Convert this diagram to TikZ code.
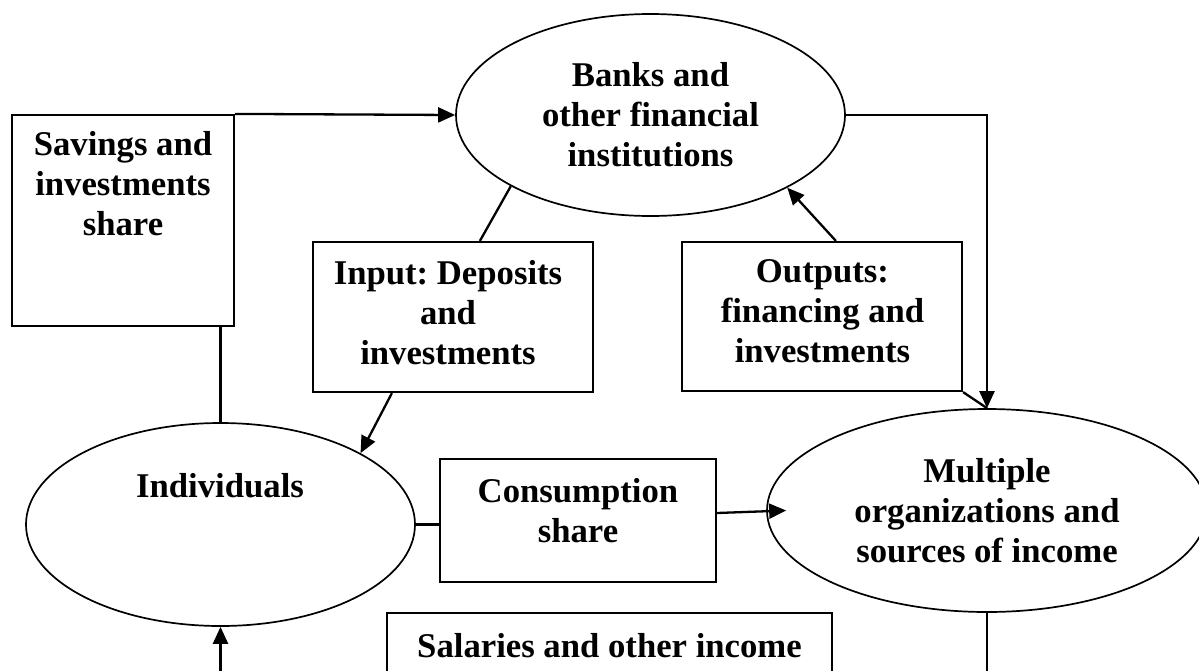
\documentclass[tikz,border=0pt]{standalone}
\usepackage{fontspec}
\setmainfont{Liberation Serif}
\usetikzlibrary{shapes.geometric,arrows.meta,calc}
\frenchspacing

\begin{document}
\begin{tikzpicture}[x=1pt,y=-1pt,
  every node/.style={font=\fontsize{34.7}{40}\selectfont\bfseries},
  bubble/.style={ellipse,draw,line width=1.7pt,inner sep=0pt,align=center},
  frame/.style={rectangle,draw,line width=2.2pt,inner sep=0pt},
  caption/.style={align=center,inner sep=0pt},
  link/.style={line width=2.3pt},
  flow/.style={link,-{Triangle[length=17pt,width=15pt]}}]
\useasboundingbox (0,0) rectangle (1199,670);
\clip (0,0) rectangle (1199,670);

% ellipses
\node[bubble,minimum width=389pt,minimum height=202pt] (banks) at (650.5,115)
  {Banks and\\other financial\\institutions};
\node[bubble,minimum width=440pt,minimum height=203pt] (mult) at (987,510.5)
  {Multiple\\organizations and\\sources of income};
\node[bubble,minimum width=389pt,minimum height=203pt] (ind) at (220.5,524.5) {};
\node[caption,anchor=base] (indT) at (220,497) {Individuals};

% boxes and their texts
\node[frame,minimum width=222pt,minimum height=211pt] (sav) at (123,220.5) {};
\node[caption] (savT) at (123,184) {Savings and\\investments\\share};
\node[frame,minimum width=280pt,minimum height=150pt] (inp) at (453,317) {};
\node[caption] (inpT) at (448,312.5) {Input: Deposits\\and\\investments};
\node[frame,minimum width=280pt,minimum height=149pt] (outp) at (822,316.5) {};
\node[caption] (outT) at (822.5,311.5) {Outputs:\\financing and\\investments};
\node[frame,minimum width=276pt,minimum height=123pt] (cons) at (578,520.5) {};
\node[caption] (consT) at (578,511) {Consumption\\share};
\node[frame,minimum width=445pt,minimum height=140pt] (sal) at (609.5,683) {};
\node[caption,anchor=base] (salT) at (609.5,657) {Salaries and other income};

% lower free ends of the income loop
\coordinate (bot) at (0,700);

% connectors
\draw[flow] (sav.north east) -- (banks.west);
\draw[link] (sav.south -| ind.north) -- (ind.north);
\draw[link] (banks.207.5) -- ($(inp.north west)+(168,0)$);
\draw[flow] ($(inp.south west)+(80,0)$) -- (ind.27.8);
\draw[flow] ($(outp.north west)+(155,0)$) -- (banks.332.2);
\draw[flow] (banks.east) -| (mult.north);
\draw[link] (outp.south east) -- (mult.north);
\draw[link] (ind.east) -- (ind.east -| cons.west);
\draw[flow] ($(cons.east)+(0,-7.5)$) -- ($(mult.west)+(20,0)$);
\draw[link] (mult.south) -- (mult.south |- bot);
\draw[flow] (ind.south |- bot) -- (ind.south);
\end{tikzpicture}
\end{document}
